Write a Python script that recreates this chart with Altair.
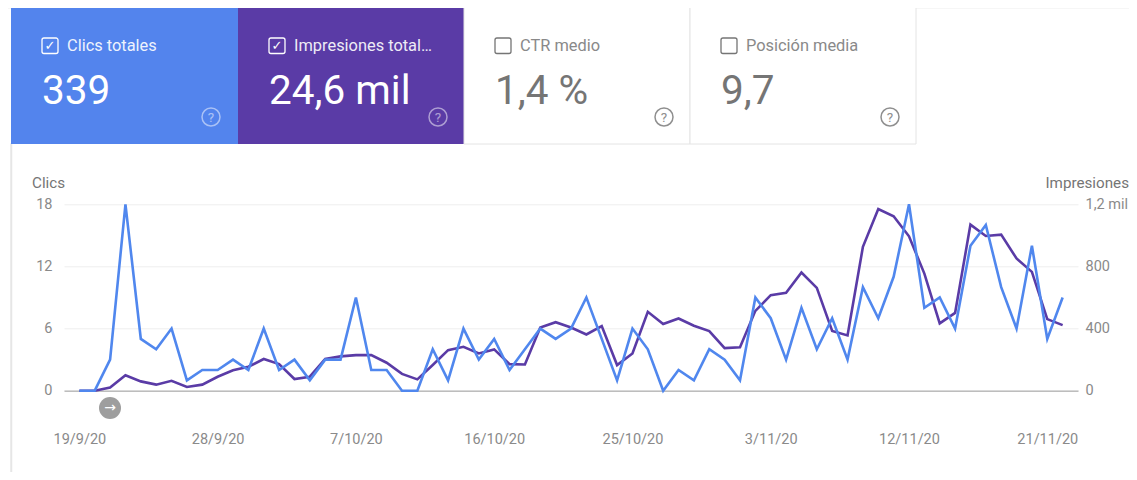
import altair as alt
import pandas as pd

START = pd.Timestamp("2020-09-19")
clics = [0,0,3,18,5,4,6,1,2,2,3,2,6,2,3,1,3,3,9,2,2,0,0,4,1,6,3,5,2,4,6,5,6,9,5,1,6,4,0,2,1,4,3,1,9,7,3,8,4,7,3,10,7,11,18,8,9,6,14,16,10,6,14,5,9]
impresiones = [0,0,21,99,60,39,64,24,39,90,131,154,204,171,75,90,204,221,229,229,180,108,73,165,261,283,240,266,171,169,407,441,407,362,416,165,240,508,429,465,418,384,274,279,514,615,630,761,662,384,356,926,1170,1123,994,754,433,501,1069,996,1005,851,765,461,422]
fechas = [(START + pd.Timedelta(days=i)).strftime("%Y-%m-%d") for i in range(len(clics))]
df = pd.DataFrame({"fecha": fechas, "clics": clics, "impresiones": impresiones})

tick_days = [0, 9, 18, 27, 36, 45, 54, 63]
tick_dates = [START + pd.Timedelta(days=d) for d in tick_days]
tick_values = [alt.DateTime(year=d.year, month=d.month, date=d.day, utc=True) for d in tick_dates]

tarjetas = [
    ("Clics totales", "339", 11, 238, "#5384ED", "#FFFFFF", True),
    ("Impresiones total…", "24,6 mil", 238, 464, "#5A3BA6", "#FFFFFF", True),
    ("CTR medio", "1,4 %", 464, 690, "#FFFFFF", "#757575", False),
    ("Posición media", "9,7", 690, 916, "#FFFFFF", "#757575", False),
]

OX, OY = 64.0, 204.3
W, H = 1014, 186.4
FONT = "Roboto"
one = alt.Data(values=[{}])


def px(x):
    return alt.value(x - OX)


def py(y):
    return alt.value(y - OY)


def texto(x, y, s, size, color, align="left", font=FONT, opacity=1.0):
    return alt.Chart(one).mark_text(text=s, font=font, fontSize=size, color=color, align=align,
                                    baseline="middle", opacity=opacity, clip=False).encode(x=px(x), y=py(y))


def caja(x1, x2, y1, y2, fill=None, stroke=None, sw=1, radius=0, opacity=1.0):
    kw = dict(cornerRadius=radius, strokeWidth=sw, clip=False)
    kw["fill"] = fill if fill else "transparent"
    kw["opacity"] = opacity
    if stroke:
        kw["stroke"] = stroke
    return alt.Chart(one).mark_rect(**kw).encode(x=px(x1), x2=px(x2), y=py(y1), y2=py(y2))


def circulo(x, y, d, fill=None, stroke=None, sw=1.5, opacity=1.0):
    kw = dict(shape="circle", size=d * d, strokeWidth=sw, opacity=opacity, clip=False)
    kw["fill"] = fill if fill else "transparent"
    if stroke:
        kw["stroke"] = stroke
    return alt.Chart(one).mark_point(**kw).encode(x=px(x), y=py(y))


chrome = []
# outer border of the panel
chrome.append(caja(11, 11.5, 144, 472, fill="#E6E6E6", stroke="#E6E6E6", sw=1.5))
chrome.append(caja(8, 1129, 8, 8.5, fill="#EEEEEE"))
for nombre, valor, x1, x2, fondo, tinta, marcado in tarjetas:
    chrome.append(caja(x1, x2, 5, 144, fill=fondo, stroke="#E4E4E4" if not marcado else None, sw=1))
    chrome.append(caja(x1 + 31, x1 + 47, 38, 53.5, stroke=tinta, sw=1.3, radius=2))
    if marcado:
        chrome.append(texto(x1 + 39, 45.5, "✓", 13, tinta, align="center", font="DejaVu Sans"))
    chrome.append(texto(x1 + 56, 45.5, nombre, 16.4, tinta, opacity=0.9 if marcado else 0.85))
    chrome.append(texto(x1 + 31, 92, valor, 40.5, tinta))
    q = "#FFFFFF" if marcado else "#8A8A8A"
    op = 0.5 if marcado else 0.95
    chrome.append(circulo(x1 + 200, 117, 18, stroke=q, opacity=op))
    chrome.append(texto(x1 + 200, 117.5, "?", 13.5, q, align="center", opacity=op))

chrome.append(texto(32, 183, "Clics", 15.2, "#757575"))
chrome.append(texto(1129, 183, "Impresiones", 15.2, "#757575", align="right"))
chrome.append(circulo(110, 408, 22, fill="#9E9E9E", sw=0))
chrome.append(texto(110, 407.5, "→", 14, "#FFFFFF", align="center", font="DejaVu Sans"))

x_enc = alt.X(
    "fecha:T",
    scale=alt.Scale(
        type="utc",
        domain=[alt.DateTime(year=2020, month=9, date=18, utc=True),
                alt.DateTime(year=2020, month=11, date=23, utc=True)],
    ),
    axis=alt.Axis(
        title=None, values=tick_values, labelExpr="utcFormat(datum.value, '%-d/%-m/%y')",
        ticks=False, grid=False, labelPadding=42, labelFont=FONT, labelFontSize=14.5,
        labelColor="#8A8A8A", domainColor="#BDBDBD", domainWidth=1.5, labelOverlap=False,
        labelFlush=False,
    ),
)

linea_imp = alt.Chart(df).mark_line(color="#5A3BA6", strokeWidth=2.6, clip=False).encode(
    x=x_enc,
    y=alt.Y(
        "impresiones:Q",
        scale=alt.Scale(domain=[0, 1200], nice=False),
        axis=alt.Axis(
            orient="right", title=None, values=[0, 400, 800, 1200], grid=False, ticks=False, domain=False,
            labelExpr="datum.value >= 1000 ? '1,2 mil' : datum.value",
            labelPadding=7, labelFont=FONT, labelFontSize=14.5, labelColor="#8A8A8A", labelAlign="left",
        ),
    ),
)
linea_cli = alt.Chart(df).mark_line(color="#5087EE", strokeWidth=2.6, clip=False).encode(
    x=x_enc,
    y=alt.Y(
        "clics:Q",
        scale=alt.Scale(domain=[0, 18], nice=False),
        axis=alt.Axis(
            orient="left", title=None, values=[0, 6, 12, 18], grid=True, gridColor="#EEEEEE", gridWidth=1,
            ticks=False, domain=False, labelPadding=12, labelFont=FONT, labelFontSize=14.5, labelColor="#8A8A8A",
        ),
    ),
)

chart = alt.layer(linea_imp, linea_cli, *chrome).resolve_scale(y="independent").properties(
    width=W,
    height=H,
    autosize=alt.AutoSizeParams(type="none"),
    padding={"left": OX - 8, "top": OY - 8, "right": 1121 - (OX - 8) - W, "bottom": 464 - (OY - 8) - H},
    background="white",
).configure_view(stroke=None)

chart.save("out.html", embed_options={"renderer": "svg", "actions": False})
